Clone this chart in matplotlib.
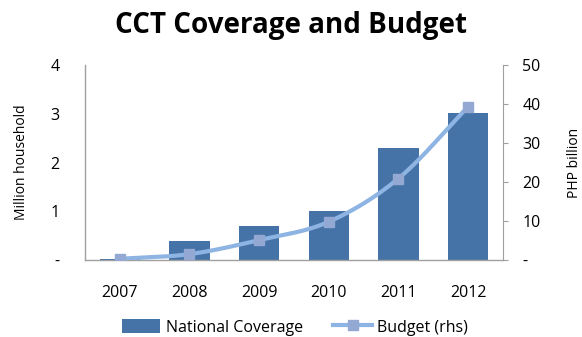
import numpy as np
import matplotlib
matplotlib.use("Agg")
import matplotlib.pyplot as plt
from matplotlib.patches import Patch
from matplotlib.lines import Line2D

plt.rcParams['font.family'] = ['Open Sans', 'DejaVu Sans']

years = ["2007", "2008", "2009", "2010", "2011", "2012"]
coverage = [0.03, 0.38, 0.70, 1.00, 2.30, 3.02]      # million households
budget = [0.3, 1.5, 5.1, 9.8, 20.9, 39.3]            # PHP billion

left_ticks = [0, 1, 2, 3, 4]
left_labels = ["-", "1", "2", "3", "4"]
right_ticks = [0, 10, 20, 30, 40, 50]
right_labels = ["-", "10", "20", "30", "40", "50"]

BAR = "#4572A7"
LINE = "#8DB4E2"
MARK = "#93A9D4"
AXIS = "#A0A0A0"


def smooth(xs, ys, n=30):
    """Catmull-Rom curve through the given points."""
    xs = np.asarray(xs, float)
    ys = np.asarray(ys, float)
    px = np.concatenate([[2 * xs[0] - xs[1]], xs, [2 * xs[-1] - xs[-2]]])
    py = np.concatenate([[2 * ys[0] - ys[1]], ys, [2 * ys[-1] - ys[-2]]])
    ox, oy = [], []
    t = np.linspace(0, 1, n, endpoint=False)
    for i in range(1, len(px) - 2):
        for p, out in ((px, ox), (py, oy)):
            p0, p1, p2, p3 = p[i - 1], p[i], p[i + 1], p[i + 2]
            out.extend(0.5 * ((2 * p1) + (-p0 + p2) * t
                              + (2 * p0 - 5 * p1 + 4 * p2 - p3) * t ** 2
                              + (-p0 + 3 * p1 - 3 * p2 + p3) * t ** 3))
    ox.append(xs[-1])
    oy.append(ys[-1])
    return np.array(ox), np.array(oy)


fig = plt.figure(figsize=(5.82, 3.37), dpi=100)
ax = fig.add_axes([0.146, 0.2285, 0.718, 0.5785])
x = np.arange(len(years))

ax.bar(x, coverage, width=0.58, color=BAR, zorder=2)
ax.set_xlim(-0.5, len(years) - 0.5)
ax.set_ylim(0, 4)
ax.set_yticks(left_ticks)
ax.set_yticklabels(left_labels)
ax.set_xticks(x)
ax.set_xticklabels(years)
ax.tick_params(axis='y', length=0, pad=18.5, labelsize=11.5)
ax.tick_params(axis='x', length=0, pad=18, labelsize=11.5)
for s in ("top", "right"):
    ax.spines[s].set_visible(False)
for s in ("left", "bottom"):
    ax.spines[s].set_color(AXIS)
    ax.spines[s].set_linewidth(1.0)
ax.set_ylabel("Million household", fontsize=10, labelpad=15)

ax2 = ax.twinx()
sx, sy = smooth(x, budget)
ax2.plot(sx, sy, color=LINE, lw=3, zorder=3, solid_capstyle='round')
ax2.plot(x, budget, ls='none', marker='s', ms=7.5, color=MARK, zorder=4)
ax2.set_ylim(0, 50)
ax2.set_yticks(right_ticks)
ax2.set_yticklabels(right_labels)
ax2.tick_params(axis='y', length=3.5, direction='out', color=AXIS, pad=10.5, labelsize=11.5)
for s in ("top", "left", "bottom"):
    ax2.spines[s].set_visible(False)
ax2.spines["right"].set_color(AXIS)
ax2.set_ylabel("PHP billion", fontsize=10, labelpad=19)
ax.set_zorder(ax2.get_zorder() - 1)
ax2.patch.set_visible(False)

fig.text(0.500, 0.902, "CCT Coverage and Budget", ha='center', va='baseline',
         fontsize=20, fontweight='bold')

handles = [Patch(facecolor=BAR, edgecolor='none'),
           Line2D([], [], color=LINE, lw=3, marker='s', ms=7.5,
                  markerfacecolor=MARK, markeredgecolor=MARK)]
fig.legend(handles, ["National Coverage", "Budget (rhs)"], loc='center',
           bbox_to_anchor=(0.507, 0.029), ncol=2, frameon=False, fontsize=11.5,
           handlelength=2.4, handleheight=1.0, columnspacing=1.9, handletextpad=0.35,
           borderpad=0.1)

fig.savefig("out.png", dpi=100)
